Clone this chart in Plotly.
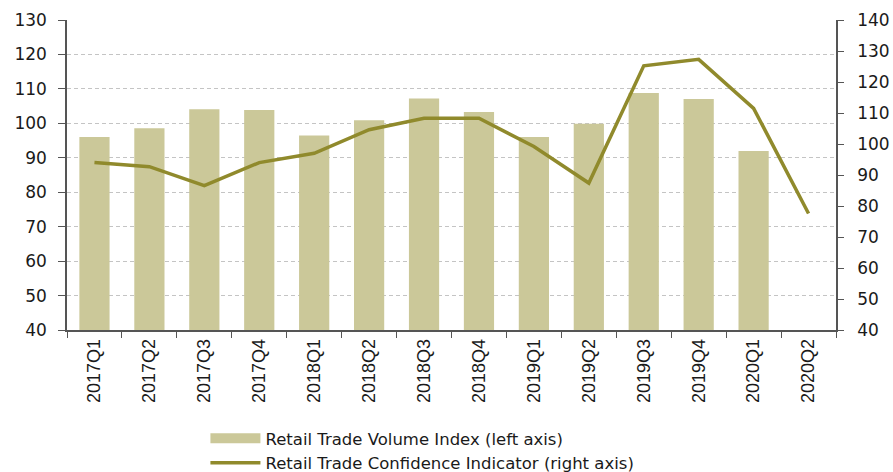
import plotly.graph_objects as go

categories = ["2017Q1", "2017Q2", "2017Q3", "2017Q4", "2018Q1", "2018Q2", "2018Q3",
              "2018Q4", "2019Q1", "2019Q2", "2019Q3", "2019Q4", "2020Q1", "2020Q2"]
volume_index = [96.0, 98.6, 104.1, 103.9, 96.5, 100.9, 107.2, 103.3, 96.0, 99.9, 108.8, 107.1, 92.0, None]
confidence = [94.0, 92.7, 86.6, 94.0, 97.0, 104.6, 108.3, 108.3, 99.2, 87.4, 125.2, 127.3, 111.5, 77.6]

bar_name = "Retail Trade Volume Index (left axis)"
line_name = "Retail Trade Confidence Indicator (right axis)"

bar_color = "#cbc899"
line_color = "#908a2c"
axis_color = "#555555"
text_color = "#1a1a1a"
font_fam = "DejaVu Sans, Liberation Sans, Arial, sans-serif"
xfont_fam = "Liberation Sans, Arial, sans-serif"

fig = go.Figure()
fig.add_trace(go.Bar(
    x=categories, y=volume_index, name=bar_name, showlegend=False,
    marker=dict(color=bar_color, line=dict(width=0)), yaxis="y",
))
# legend-only entry giving a wide rectangular swatch for the bars
fig.add_trace(go.Scatter(
    x=[None], y=[None], name=bar_name, mode="lines",
    line=dict(color=bar_color, width=10), yaxis="y",
))
fig.add_trace(go.Scatter(
    x=categories, y=confidence, name=line_name,
    mode="lines", line=dict(color=line_color, width=3.5), yaxis="y2",
))

fig.update_layout(
    width=893, height=472,
    margin=dict(l=67, r=57, t=20, b=142, autoexpand=False),
    paper_bgcolor="white", plot_bgcolor="white",
    font=dict(family=font_fam, color=text_color, size=17),
    bargap=0.45,
    showlegend=True,
    legend=dict(
        orientation="v", x=0.18, xanchor="left",
        yref="container", y=1 - 421 / 472, yanchor="top",
        font=dict(size=16.5, color=text_color, family=font_fam),
        bgcolor="rgba(0,0,0,0)", traceorder="normal",
        tracegroupgap=0, itemwidth=50,
    ),
    xaxis=dict(
        type="category", showline=True, linecolor=axis_color, linewidth=1.5,
        ticks="outside", tickson="boundaries", ticklen=6, tickcolor=axis_color,
        tickangle=-90, tickfont=dict(size=18, family=xfont_fam, color=text_color),
        showgrid=False, automargin=False,
    ),
    yaxis=dict(
        range=[40, 130], dtick=10, tick0=40, showline=True, linecolor=axis_color,
        linewidth=1.5, ticks="outside", ticklen=7, tickcolor=axis_color,
        showgrid=True, gridcolor="#c4c4c4", griddash="4px,3px", gridwidth=1,
        tickfont=dict(size=17), zeroline=False, ticklabelstandoff=8,
        automargin=False,
    ),
    yaxis2=dict(
        range=[40, 140], dtick=10, tick0=40, overlaying="y", side="right",
        showline=True, linecolor=axis_color, linewidth=1.5,
        ticks="outside", ticklen=6, tickcolor=axis_color,
        showgrid=False, tickfont=dict(size=17), zeroline=False,
        ticklabelstandoff=10, automargin=False,
    ),
)

fig.write_html("out.html")
